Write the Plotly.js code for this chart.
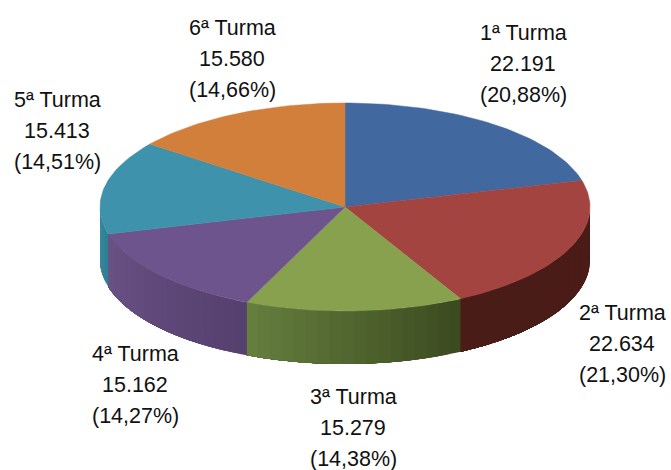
<!DOCTYPE html>
<html><head><meta charset="utf-8">
<script src="https://cdn.plot.ly/plotly-3.0.1.min.js"></script>
<style>html,body{margin:0;padding:0;background:#fff}</style></head>
<body><div id="c" style="width:671px;height:470px"></div>
<script>
const names = ["1ª Turma","2ª Turma","3ª Turma","4ª Turma","5ª Turma","6ª Turma"];
const values = [22191,22634,15279,15162,15413,15580];
const valueLabels = ["22.191","22.634","15.279","15.162","15.413","15.580"];
const pctLabels = ["(20,88%)","(21,30%)","(14,38%)","(14,27%)","(14,51%)","(14,66%)"];
const topColors = ["#41699f","#a44441","#88a14e","#6e548d","#3f92ab","#d27f3b"];
const wallStart = ["#2c4a70","#4a1b17","#3a4a1f","#54406e","#2f7d92","#a0622c"];
const wallEnd   = ["#2c4a70","#4a1c18","#667f3f","#6a5185","#3a8ba2","#a0622c"];
const labelX = [523,622,353,135,57,232];
const labelY = [33,313,397,354,100,28];

const cx=345, cy=207, rx=245, ry=104, depth=53, lineGap=31;
const total = values.reduce((a,b)=>a+b,0);
const pt=(deg,dy=0)=>{const t=deg*Math.PI/180;return [cx+rx*Math.sin(t), cy-ry*Math.cos(t)+dy];};
const hex=s=>[1,3,5].map(i=>parseInt(s.substr(i,2),16));
const mix=(a,b,f)=>{const A=hex(a),B=hex(b);return 'rgb('+A.map((v,i)=>Math.round(v+(B[i]-v)*f)).join(',')+')';};

const walls=[], tops=[];
let acc=0;
values.forEach((v,i)=>{
  const a0=acc/total*360, a1=(acc+v)/total*360; acc+=v;
  // outer wall: visible only on the front half; each strip runs to the slice end and is overpainted by the next
  const w0=Math.max(a0,90), w1=Math.min(a1,270);
  if(w1>w0){
    const n=Math.max(1,Math.ceil((w1-w0)/3));
    for(let k=0;k<n;k++){
      const s=w0+(w1-w0)*k/n;
      const xs=[],ys=[];
      const m=Math.max(2,Math.ceil((w1-s)/1.5));
      for(let j=0;j<=m;j++){const p=pt(s+(w1-s)*j/m);xs.push(p[0]);ys.push(p[1]);}
      for(let j=m;j>=0;j--){const p=pt(s+(w1-s)*j/m,depth);xs.push(p[0]);ys.push(p[1]);}
      xs.push(xs[0]);ys.push(ys[0]);
      const col=mix(wallStart[i],wallEnd[i],(k+0.5)/n);
      walls.push({type:'scatter',mode:'none',x:xs,y:ys,fill:'toself',fillcolor:col,hoverinfo:'skip',showlegend:false});
    }
  }
  const xs=[cx],ys=[cy];
  const m=Math.ceil((a1-a0)/1.5);
  for(let j=0;j<=m;j++){const p=pt(a0+(a1-a0)*j/m);xs.push(p[0]);ys.push(p[1]);}
  xs.push(cx);ys.push(cy);
  tops.push({type:'scatter',mode:'lines',name:names[i],x:xs,y:ys,fill:'toself',fillcolor:topColors[i],line:{color:topColors[i],width:0.5},hoverinfo:'skip',showlegend:false});
});

const annotations=[];
names.forEach((n,i)=>{
  [n,valueLabels[i],pctLabels[i]].forEach((t,l)=>annotations.push({
    x:labelX[i],y:labelY[i]+l*lineGap,xref:'x',yref:'y',text:t,showarrow:false,
    xanchor:'center',yanchor:'middle',font:{family:'"Liberation Sans",Arial,sans-serif',size:21.5,color:'#111'}
  }));
});

Plotly.newPlot('c',walls.concat(tops),{
  width:671,height:470,margin:{l:0,r:0,t:0,b:0},
  paper_bgcolor:'#fff',plot_bgcolor:'#fff',showlegend:false,hovermode:false,
  xaxis:{range:[0,671],visible:false,fixedrange:true},
  yaxis:{range:[470,0],visible:false,fixedrange:true},
  annotations
},{displayModeBar:false,staticPlot:true});
</script></body></html>
